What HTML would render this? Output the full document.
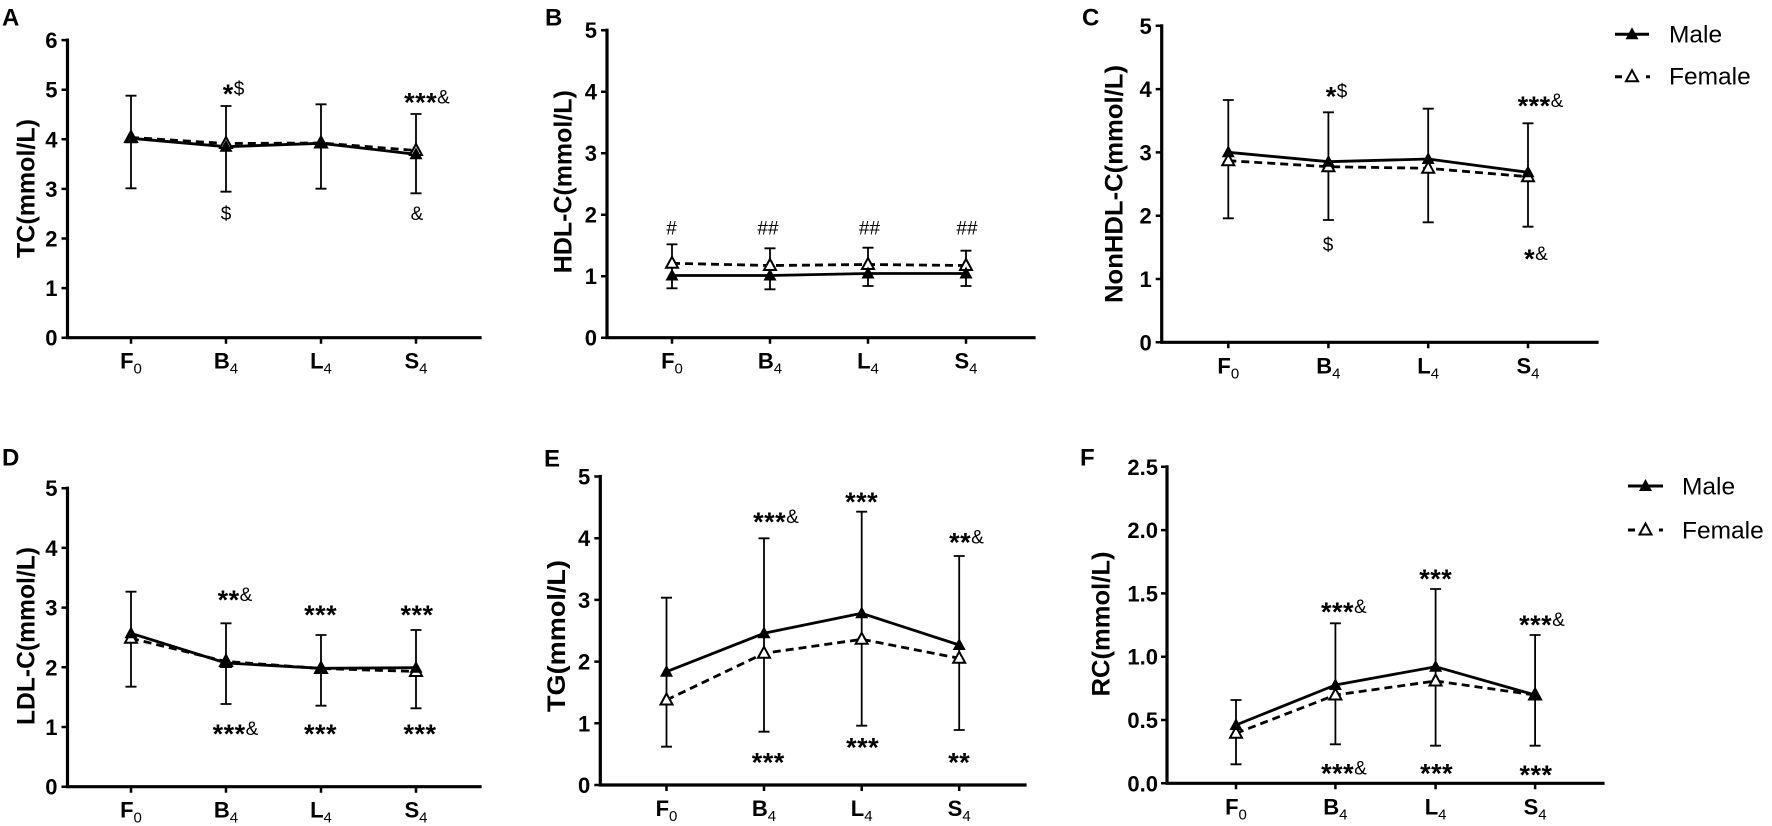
<!DOCTYPE html>
<html><head><meta charset="utf-8"><style>
html,body{margin:0;padding:0;background:#fff;}
svg{display:block;}
text{font-family:"Liberation Sans",Arial,sans-serif;fill:#000;}
.tl{font-size:22px;font-weight:bold;text-anchor:end;}
.xl{font-size:22px;font-weight:bold;text-anchor:middle;}
.sub{font-size:15px;font-weight:normal;}
.pl{font-size:24px;font-weight:bold;}
.at{font-size:25px;font-weight:bold;text-anchor:middle;}
.an{font-size:19px;text-anchor:middle;}
.st{font-size:27px;font-weight:bold;letter-spacing:0.5px;}
.lg{font-size:24.5px;}
.ax{stroke:#000;stroke-width:3.2;fill:none;stroke-linecap:square;}
.tk{stroke:#000;stroke-width:2.5;fill:none;}
.eb{stroke:#000;stroke-width:1.8;fill:none;}
.ml{stroke:#000;stroke-width:2.8;fill:none;stroke-linejoin:round;}
.fl{stroke:#000;stroke-width:2.8;fill:none;stroke-dasharray:8,5;}
</style></head><body>
<svg width="1772" height="826" viewBox="0 0 1772 826" xmlns="http://www.w3.org/2000/svg">
<defs>
<path id="tm" d="M0,-7 L6.5,5 L-6.5,5Z" fill="#000"/>
<path id="tf" d="M0,-6.5 L6,4.5 L-6,4.5Z" fill="#fff" stroke="#000" stroke-width="2"/>
</defs>
<rect width="1772" height="826" fill="#fff"/>

<!-- ================= PANEL A ================= -->
<text class="pl" x="2" y="25.5">A</text>
<path class="ax" d="M67.5,40.1V337.7H480"/>
<path class="tk" d="M61.5,40.1H67.5M61.5,89.7H67.5M61.5,139.3H67.5M61.5,188.9H67.5M61.5,238.5H67.5M61.5,288.1H67.5M61.5,337.7H67.5M131,337.7v6M226,337.7v6M321,337.7v6M416,337.7v6"/>
<text class="tl" x="57.5" y="48.1">6</text>
<text class="tl" x="57.5" y="97.7">5</text>
<text class="tl" x="57.5" y="147.3">4</text>
<text class="tl" x="57.5" y="196.9">3</text>
<text class="tl" x="57.5" y="246.5">2</text>
<text class="tl" x="57.5" y="296.1">1</text>
<text class="tl" x="57.5" y="345.7">0</text>
<text class="xl" x="131" y="368.7">F<tspan class="sub" dy="5">0</tspan></text>
<text class="xl" x="226" y="368.7">B<tspan class="sub" dy="5">4</tspan></text>
<text class="xl" x="321" y="368.7">L<tspan class="sub" dy="5">4</tspan></text>
<text class="xl" x="416" y="368.7">S<tspan class="sub" dy="5">4</tspan></text>
<text class="at" transform="translate(34.5,188.5) rotate(-90)" textLength="139" lengthAdjust="spacingAndGlyphs">TC(mmol/L)</text>
<path class="eb" d="M131,95.7V188.3M125.5,95.7H136.5M125.5,188.3H136.5M226,106V191.7M220.5,106H231.5M220.5,191.7H231.5M321,104.3V188.7M315.5,104.3H326.5M315.5,188.7H326.5M416,114V193.3M410.5,114H421.5M410.5,193.3H421.5"/>
<polyline class="fl" points="131,137.5 226,143.5 321,143 416,150.5"/>
<polyline class="ml" points="131,138.3 226,146.7 321,143.3 416,154.3"/>
<use href="#tf" x="131" y="137.5"/><use href="#tf" x="226" y="143.5"/><use href="#tf" x="321" y="143"/><use href="#tf" x="416" y="150.5"/>
<use href="#tm" x="131" y="138.3"/><use href="#tm" x="226" y="146.7"/><use href="#tm" x="321" y="143.3"/><use href="#tm" x="416" y="154.3"/>
<text class="an" x="233.5" y="95"><tspan class="st" dy="8">*</tspan><tspan dy="-8">$</tspan></text>
<text class="an" x="427" y="103.5"><tspan class="st" dy="8">***</tspan><tspan dy="-8">&amp;</tspan></text>
<text class="an" x="226" y="220">$</text>
<text class="an" x="417" y="220">&amp;</text>

<!-- ================= PANEL B ================= -->
<text class="pl" x="545" y="25.5">B</text>
<path class="ax" d="M607,30.2V337.7H1034"/>
<path class="tk" d="M601,30.2H607M601,91.7H607M601,153.2H607M601,214.7H607M601,276.2H607M601,337.7H607M672,337.7v6M770,337.7v6M868,337.7v6M966,337.7v6"/>
<text class="tl" x="597" y="38.2">5</text>
<text class="tl" x="597" y="99.7">4</text>
<text class="tl" x="597" y="161.2">3</text>
<text class="tl" x="597" y="222.7">2</text>
<text class="tl" x="597" y="284.2">1</text>
<text class="tl" x="597" y="345.7">0</text>
<text class="xl" x="672" y="368.7">F<tspan class="sub" dy="5">0</tspan></text>
<text class="xl" x="770" y="368.7">B<tspan class="sub" dy="5">4</tspan></text>
<text class="xl" x="868" y="368.7">L<tspan class="sub" dy="5">4</tspan></text>
<text class="xl" x="966" y="368.7">S<tspan class="sub" dy="5">4</tspan></text>
<text class="at" transform="translate(571.5,181.7) rotate(-90)" textLength="183" lengthAdjust="spacingAndGlyphs">HDL-C(mmol/L)</text>
<path class="eb" d="M672,244.3V288.3M666.5,244.3H677.5M666.5,288.3H677.5M770,248.3V289.3M764.5,248.3H775.5M764.5,289.3H775.5M868,247.7V286M862.5,247.7H873.5M862.5,286H873.5M966,250.7V286M960.5,250.7H971.5M960.5,286H971.5"/>
<polyline class="fl" points="672,263.3 770,265.5 868,264.5 966,265.5"/>
<polyline class="ml" points="672,275.5 770,275.5 868,273.5 966,273.5"/>
<use href="#tf" x="672" y="263.3"/><use href="#tf" x="770" y="265.5"/><use href="#tf" x="868" y="264.5"/><use href="#tf" x="966" y="265.5"/>
<use href="#tm" x="672" y="275.5"/><use href="#tm" x="770" y="275.5"/><use href="#tm" x="868" y="273.5"/><use href="#tm" x="966" y="273.5"/>
<text class="an" x="671.5" y="234.5">#</text>
<text class="an" x="768" y="234.5">##</text>
<text class="an" x="869.5" y="234.5">##</text>
<text class="an" x="967" y="234.5">##</text>

<!-- ================= PANEL C ================= -->
<text class="pl" x="1082" y="25.5">C</text>
<path class="ax" d="M1161.7,25.8V342.3H1597"/>
<path class="tk" d="M1155.7,25.8H1161.7M1155.7,89.1H1161.7M1155.7,152.4H1161.7M1155.7,215.7H1161.7M1155.7,279H1161.7M1155.7,342.3H1161.7M1228.3,342.3v6M1328.4,342.3v6M1428.2,342.3v6M1528,342.3v6"/>
<text class="tl" x="1151.7" y="33.8">5</text>
<text class="tl" x="1151.7" y="97.1">4</text>
<text class="tl" x="1151.7" y="160.4">3</text>
<text class="tl" x="1151.7" y="223.7">2</text>
<text class="tl" x="1151.7" y="287">1</text>
<text class="tl" x="1151.7" y="350.3">0</text>
<text class="xl" x="1228.3" y="373.3">F<tspan class="sub" dy="5">0</tspan></text>
<text class="xl" x="1328.4" y="373.3">B<tspan class="sub" dy="5">4</tspan></text>
<text class="xl" x="1428.2" y="373.3">L<tspan class="sub" dy="5">4</tspan></text>
<text class="xl" x="1528" y="373.3">S<tspan class="sub" dy="5">4</tspan></text>
<text class="at" transform="translate(1122.5,184) rotate(-90)" textLength="238" lengthAdjust="spacingAndGlyphs">NonHDL-C(mmol/L)</text>
<path class="eb" d="M1228.3,100V218.3M1222.8,100H1233.8M1222.8,218.3H1233.8M1328.4,112.3V220M1322.9,112.3H1333.9M1322.9,220H1333.9M1428.2,108.7V222.3M1422.7,108.7H1433.7M1422.7,222.3H1433.7M1528,123.3V226.7M1522.5,123.3H1533.5M1522.5,226.7H1533.5"/>
<polyline class="fl" points="1228.3,160.7 1328.4,166.7 1428.2,168.3 1528,176.7"/>
<polyline class="ml" points="1228.3,152.3 1328.4,161.7 1428.2,159 1528,172.3"/>
<use href="#tf" x="1228.3" y="160.7"/><use href="#tf" x="1328.4" y="166.7"/><use href="#tf" x="1428.2" y="168.3"/><use href="#tf" x="1528" y="176.7"/>
<use href="#tm" x="1228.3" y="152.3"/><use href="#tm" x="1328.4" y="161.7"/><use href="#tm" x="1428.2" y="159"/><use href="#tm" x="1528" y="172.3"/>
<text class="an" x="1336.5" y="97.5"><tspan class="st" dy="8">*</tspan><tspan dy="-8">$</tspan></text>
<text class="an" x="1540.5" y="107"><tspan class="st" dy="8">***</tspan><tspan dy="-8">&amp;</tspan></text>
<text class="an" x="1328" y="251">$</text>
<text class="an" x="1536" y="260"><tspan class="st" dy="8">*</tspan><tspan dy="-8">&amp;</tspan></text>

<!-- Legend top -->
<path d="M1615,34.3H1649" stroke="#000" stroke-width="3"/>
<use href="#tm" x="1632" y="34.3"/>
<text class="lg" x="1669" y="42.5">Male</text>
<path d="M1615,76.7H1622M1646,76.7H1650" stroke="#000" stroke-width="3"/>
<use href="#tf" x="1632" y="76.7"/>
<text class="lg" x="1669" y="84.5">Female</text>

<!-- ================= PANEL D ================= -->
<text class="pl" x="2" y="465.5">D</text>
<path class="ax" d="M67.5,488.2V786.7H480"/>
<path class="tk" d="M61.5,488.2H67.5M61.5,547.9H67.5M61.5,607.6H67.5M61.5,667.3H67.5M61.5,727H67.5M61.5,786.7H67.5M131,786.7v6M226,786.7v6M321,786.7v6M416,786.7v6"/>
<text class="tl" x="57.5" y="496.2">5</text>
<text class="tl" x="57.5" y="555.9">4</text>
<text class="tl" x="57.5" y="615.6">3</text>
<text class="tl" x="57.5" y="675.3">2</text>
<text class="tl" x="57.5" y="735">1</text>
<text class="tl" x="57.5" y="794.7">0</text>
<text class="xl" x="131" y="817.7">F<tspan class="sub" dy="5">0</tspan></text>
<text class="xl" x="226" y="817.7">B<tspan class="sub" dy="5">4</tspan></text>
<text class="xl" x="321" y="817.7">L<tspan class="sub" dy="5">4</tspan></text>
<text class="xl" x="416" y="817.7">S<tspan class="sub" dy="5">4</tspan></text>
<text class="at" transform="translate(34.5,636) rotate(-90)" textLength="178" lengthAdjust="spacingAndGlyphs">LDL-C(mmol/L)</text>
<path class="eb" d="M131,591.7V686.7M125.5,591.7H136.5M125.5,686.7H136.5M226,623.3V704M220.5,623.3H231.5M220.5,704H231.5M321,635V705.7M315.5,635H326.5M315.5,705.7H326.5M416,630V708.3M410.5,630H421.5M410.5,708.3H421.5"/>
<polyline class="fl" points="131,638.3 226,661.5 321,668.5 416,671.5"/>
<polyline class="ml" points="131,633.3 226,663 321,668.3 416,667.7"/>
<use href="#tf" x="131" y="638.3"/><use href="#tf" x="226" y="661.5"/><use href="#tf" x="321" y="668.5"/><use href="#tf" x="416" y="671.5"/>
<use href="#tm" x="131" y="633.3"/><use href="#tm" x="226" y="663"/><use href="#tm" x="321" y="668.3"/><use href="#tm" x="416" y="667.7"/>
<text class="an" x="235" y="601"><tspan class="st" dy="8">**</tspan><tspan dy="-8">&amp;</tspan></text>
<text class="an" x="320.7" y="616"><tspan class="st" dy="8">***</tspan></text>
<text class="an" x="417" y="616"><tspan class="st" dy="8">***</tspan></text>
<text class="an" x="235.5" y="735"><tspan class="st" dy="8">***</tspan><tspan dy="-8">&amp;</tspan></text>
<text class="an" x="320.5" y="735"><tspan class="st" dy="8">***</tspan></text>
<text class="an" x="420" y="735"><tspan class="st" dy="8">***</tspan></text>

<!-- ================= PANEL E ================= -->
<text class="pl" x="544" y="466.5">E</text>
<path class="ax" d="M600.3,476.5V785H1025"/>
<path class="tk" d="M594.3,476.5H600.3M594.3,538.2H600.3M594.3,599.9H600.3M594.3,661.6H600.3M594.3,723.3H600.3M594.3,785H600.3M666.5,785v6M764,785v6M861.7,785v6M959.2,785v6"/>
<text class="tl" x="590.3" y="484.5">5</text>
<text class="tl" x="590.3" y="546.2">4</text>
<text class="tl" x="590.3" y="607.9">3</text>
<text class="tl" x="590.3" y="669.6">2</text>
<text class="tl" x="590.3" y="731.3">1</text>
<text class="tl" x="590.3" y="793">0</text>
<text class="xl" x="666.5" y="816">F<tspan class="sub" dy="5">0</tspan></text>
<text class="xl" x="764" y="816">B<tspan class="sub" dy="5">4</tspan></text>
<text class="xl" x="861.7" y="816">L<tspan class="sub" dy="5">4</tspan></text>
<text class="xl" x="959.2" y="816">S<tspan class="sub" dy="5">4</tspan></text>
<text class="at" transform="translate(565,636) rotate(-90)" textLength="152" lengthAdjust="spacingAndGlyphs">TG(mmol/L)</text>
<path class="eb" d="M666.5,597.7V746.7M661,597.7H672M661,746.7H672M764,538.3V731.7M758.5,538.3H769.5M758.5,731.7H769.5M861.7,511.7V725.7M856.2,511.7H867.2M856.2,725.7H867.2M959.2,556V730M953.7,556H964.7M953.7,730H964.7"/>
<polyline class="fl" points="666.5,700 764,653.3 861.7,639.3 959.2,658.3"/>
<polyline class="ml" points="666.5,671.7 764,633.3 861.7,613.3 959.2,645"/>
<use href="#tf" x="666.5" y="700"/><use href="#tf" x="764" y="653.3"/><use href="#tf" x="861.7" y="639.3"/><use href="#tf" x="959.2" y="658.3"/>
<use href="#tm" x="666.5" y="671.7"/><use href="#tm" x="764" y="633.3"/><use href="#tm" x="861.7" y="613.3"/><use href="#tm" x="959.2" y="645"/>
<text class="an" x="776" y="523"><tspan class="st" dy="8">***</tspan><tspan dy="-8">&amp;</tspan></text>
<text class="an" x="861.7" y="503"><tspan class="st" dy="8">***</tspan></text>
<text class="an" x="966.5" y="543.5"><tspan class="st" dy="8">**</tspan><tspan dy="-8">&amp;</tspan></text>
<text class="an" x="768.3" y="763.5"><tspan class="st" dy="8">***</tspan></text>
<text class="an" x="862.6" y="748.5"><tspan class="st" dy="8">***</tspan></text>
<text class="an" x="959.3" y="763.5"><tspan class="st" dy="8">**</tspan></text>

<!-- ================= PANEL F ================= -->
<text class="pl" x="1080" y="465.5">F</text>
<path class="ax" d="M1167,466.8V783.3H1603"/>
<path class="tk" d="M1161,466.8H1167M1161,530.1H1167M1161,593.4H1167M1161,656.7H1167M1161,720H1167M1161,783.3H1167M1236,783.3v6M1335.4,783.3v6M1435.6,783.3v6M1535.1,783.3v6"/>
<text class="tl" x="1158" y="474.8">2.5</text>
<text class="tl" x="1158" y="538.1">2.0</text>
<text class="tl" x="1158" y="601.4">1.5</text>
<text class="tl" x="1158" y="664.7">1.0</text>
<text class="tl" x="1158" y="728">0.5</text>
<text class="tl" x="1158" y="791.3">0.0</text>
<text class="xl" x="1236" y="814.3">F<tspan class="sub" dy="5">0</tspan></text>
<text class="xl" x="1335.4" y="814.3">B<tspan class="sub" dy="5">4</tspan></text>
<text class="xl" x="1435.6" y="814.3">L<tspan class="sub" dy="5">4</tspan></text>
<text class="xl" x="1535.1" y="814.3">S<tspan class="sub" dy="5">4</tspan></text>
<text class="at" transform="translate(1109.5,624) rotate(-90)" textLength="145" lengthAdjust="spacingAndGlyphs">RC(mmol/L)</text>
<path class="eb" d="M1236,700V764.3M1230.5,700H1241.5M1230.5,764.3H1241.5M1335.4,623.3V744.3M1329.9,623.3H1340.9M1329.9,744.3H1340.9M1435.6,589V745.7M1430.1,589H1441.1M1430.1,745.7H1441.1M1535.1,635V745.7M1529.6,635H1540.6M1529.6,745.7H1540.6"/>
<polyline class="fl" points="1236,733.3 1335.4,695 1435.6,681 1535.1,695"/>
<polyline class="ml" points="1236,725 1335.4,685 1435.6,666.7 1535.1,695"/>
<use href="#tf" x="1236" y="733.3"/><use href="#tf" x="1335.4" y="695"/><use href="#tf" x="1435.6" y="681"/><use href="#tf" x="1535.1" y="695"/>
<use href="#tm" x="1236" y="725"/><use href="#tm" x="1335.4" y="685"/><use href="#tm" x="1435.6" y="666.7"/><use href="#tm" x="1535.1" y="695"/>
<text class="an" x="1343.8" y="613"><tspan class="st" dy="8">***</tspan><tspan dy="-8">&amp;</tspan></text>
<text class="an" x="1435.8" y="580"><tspan class="st" dy="8">***</tspan></text>
<text class="an" x="1542" y="626"><tspan class="st" dy="8">***</tspan><tspan dy="-8">&amp;</tspan></text>
<text class="an" x="1344" y="774.5"><tspan class="st" dy="8">***</tspan><tspan dy="-8">&amp;</tspan></text>
<text class="an" x="1436.6" y="774.5"><tspan class="st" dy="8">***</tspan></text>
<text class="an" x="1536" y="776"><tspan class="st" dy="8">***</tspan></text>

<!-- Legend bottom -->
<path d="M1628,486H1663" stroke="#000" stroke-width="3"/>
<use href="#tm" x="1645.5" y="486"/>
<text class="lg" x="1682" y="494.5">Male</text>
<path d="M1628,530H1635M1659,530H1663" stroke="#000" stroke-width="3"/>
<use href="#tf" x="1645.5" y="530"/>
<text class="lg" x="1682" y="538.5">Female</text>
</svg>
</body></html>
